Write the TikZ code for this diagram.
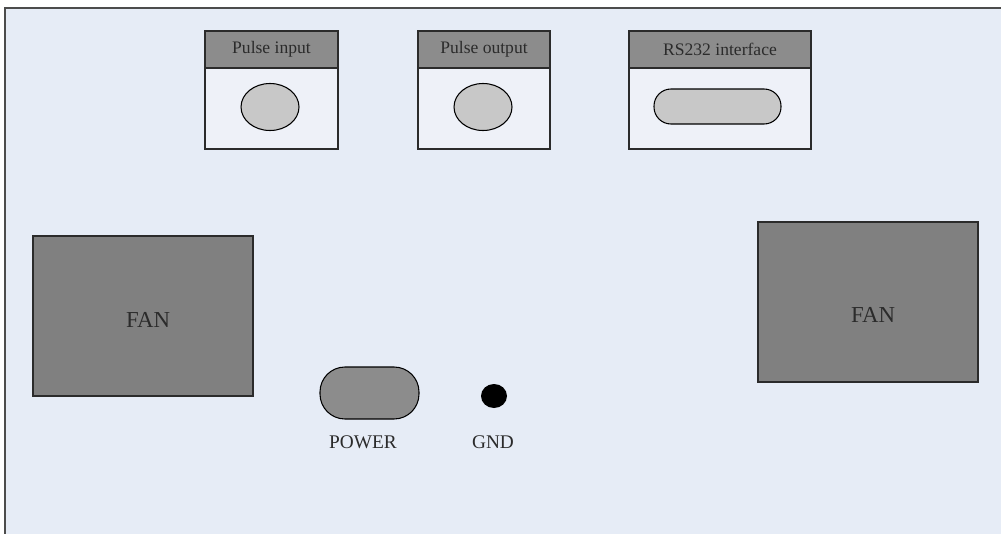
\documentclass[tikz,border=0pt]{standalone}
\usepackage{fontspec}
\setmainfont{Liberation Serif}
\definecolor{panelbg}{HTML}{E6ECF6}
\definecolor{boxbg}{HTML}{EEF1F8}
\definecolor{headgray}{HTML}{8C8C8C}
\definecolor{fangray}{HTML}{808080}
\definecolor{portgray}{HTML}{C8C8C8}
\definecolor{inkgray}{HTML}{2B2B2B}
\tikzset{
  portbox/.style={draw=inkgray, fill=boxbg, line width=0.6pt},
  porthead/.style={draw=inkgray, fill=headgray, line width=0.6pt},
  socket/.style={draw=black, fill=portgray, line width=0.6pt},
  fanbox/.style={draw=inkgray, fill=fangray, line width=0.7pt},
  headlabel/.style={text=inkgray, font=\fontsize{10}{12}\selectfont},
  fanlabel/.style={text=inkgray, font=\fontsize{13}{15}\selectfont},
  partlabel/.style={text=inkgray, font=\fontsize{11}{13}\selectfont},
}

\begin{document}
\begin{tikzpicture}[x=0.02cm, y=-0.02cm]
\useasboundingbox (0,0) rectangle (1001,534);
\fill[white] (0,0) rectangle (1001,534); % page
\fill[panelbg] (5,8) rectangle (1001,534); % panel
\draw[gray!60!black, line width=1.2pt] (5,534) -- (5,8) -- (1001,8); % panel edge
% pulse input
\draw[portbox] (205,31) rectangle (338,149);
\draw[porthead] (205,31) rectangle (338,68);
\node[headlabel] (pulsein) at (271.5,49.5) {Pulse input};
\draw[socket] (270,107) ellipse (29 and 23.5);
% pulse output
\draw[portbox] (418,31) rectangle (550,149);
\draw[porthead] (418,31) rectangle (550,68);
\node[headlabel] (pulseout) at (484,49.5) {Pulse output};
\draw[socket] (483,107) ellipse (29 and 23.5);
% rs232
\draw[portbox] (629,31) rectangle (811,149);
\draw[porthead] (629,31) rectangle (811,68);
\node[headlabel] (rs232) at (720,49.5) {RS232 interface};
\draw[socket, rounded corners=0.34cm] (654,89) rectangle (781,124);
% fans
\draw[fanbox] (33,236) rectangle (253,396);
\node[fanlabel] (fanleft) at (148,320) {FAN};
\draw[fanbox] (758,222) rectangle (978,382);
\node[fanlabel] (fanright) at (873,315) {FAN};
% power and gnd
\draw[socket, fill=headgray, rounded corners=0.5cm] (320,367) rectangle (419,419);
\node[partlabel] (power) at (363,442) {POWER};
\fill[black] (494,396) ellipse (13 and 12);
\node[partlabel] (gnd) at (493,442) {GND};
\end{tikzpicture}
\end{document}
